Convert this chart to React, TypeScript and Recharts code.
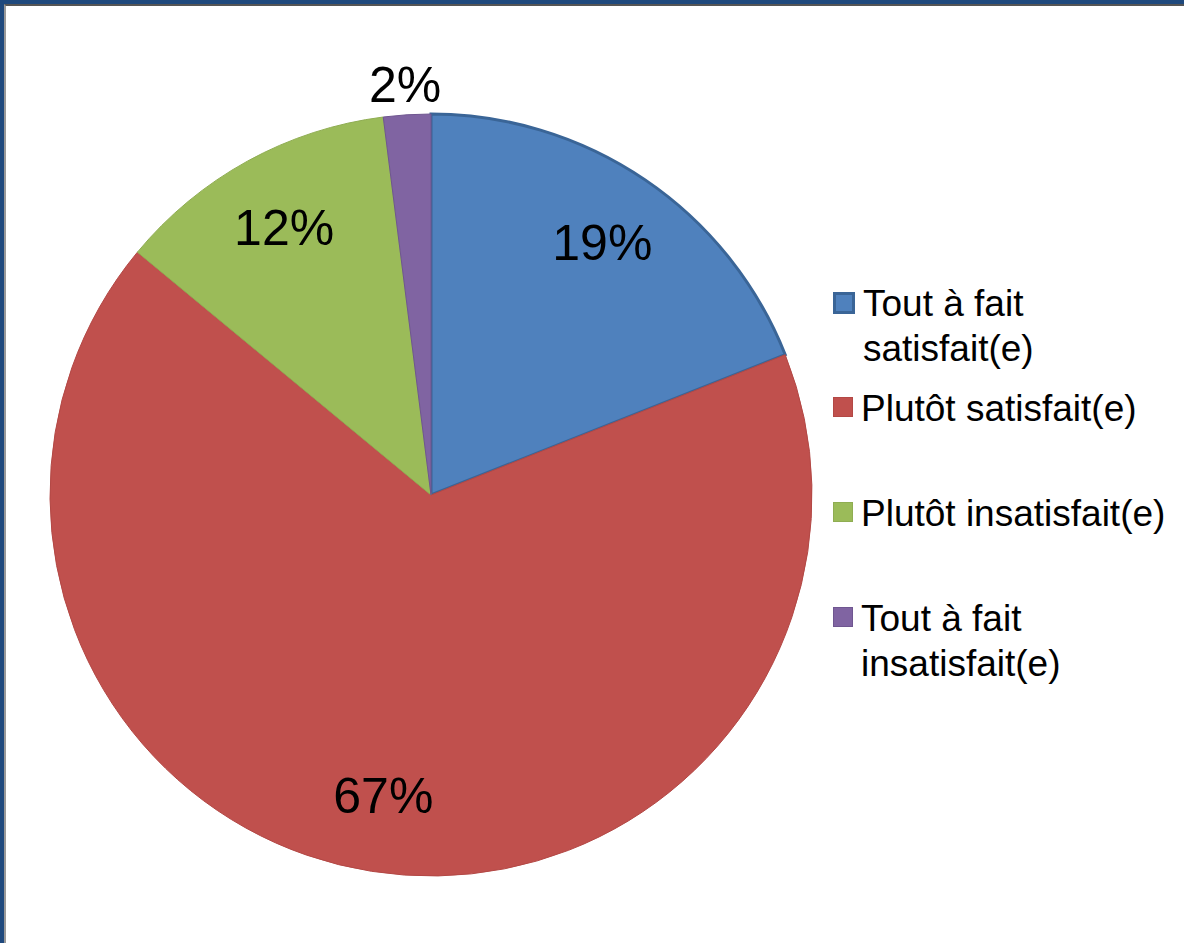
import * as React from "react";
import { Cell, Legend, Pie, PieChart } from "recharts";

const categories = [
  "Tout à fait satisfait(e)",
  "Plutôt satisfait(e)",
  "Plutôt insatisfait(e)",
  "Tout à fait insatisfait(e)",
];
const shares = [19, 67, 12, 2];
const fills = ["#4F81BD", "#C0504D", "#9BBB59", "#8064A2"];
const strokes = ["#3A6597", "#B34845", "#8FAD52", "#6F5690"];

const data = categories.map((name, i) => ({ name, value: shares[i] }));

const FONT = '"Liberation Sans", Arial, sans-serif';
const RAD = Math.PI / 180;

function renderLabel(props: any) {
  const { cx, cy, midAngle, outerRadius, percent, value } = props;
  // small slices get their label outside, like Excel's best fit
  const r = percent < 0.05 ? outerRadius + 30 : outerRadius * 0.8;
  const x = cx + r * Math.cos(-midAngle * RAD);
  const y = cy + r * Math.sin(-midAngle * RAD);
  return (
    <text
      x={x}
      y={y}
      fill="#000"
      fontSize={50}
      fontFamily={FONT}
      textAnchor="middle"
      dominantBaseline="central"
    >
      {value}%
    </text>
  );
}

// legend keeps the series order (recharts 3 would sort the payload by name)
function LegendContent() {
  return (
    <div style={{ fontFamily: FONT, fontSize: 37, lineHeight: "45px", color: "#000" }}>
      {categories.map((name, i) => (
        <div key={name} style={{ display: "flex", height: 105, alignItems: "flex-start" }}>
          <span
            style={{
              width: i === 0 ? 16 : 18,
              height: i === 0 ? 16 : 18,
              marginTop: 11,
              marginRight: 8,
              flex: "none",
              background: fills[i],
              border: i === 0 ? `3px solid ${strokes[0]}` : `1px solid ${strokes[i]}`,
            }}
          />
          <span style={{ width: 310 }}>{name}</span>
        </div>
      ))}
    </div>
  );
}

export default function App() {
  return (
    <div
      style={{
        position: "fixed",
        left: 0,
        top: 0,
        width: 1184,
        height: 943,
        background: "#1F497D",
        overflow: "hidden",
      }}
    >
      <div
        style={{
          position: "absolute",
          left: 4,
          top: 4,
          right: 0,
          bottom: 0,
          background: "#fff",
          borderTop: "2px solid #555",
          borderLeft: "2px solid #999",
        }}
      />
      <div style={{ position: "absolute", left: 0, top: 0 }}>
        <PieChart width={1184} height={943} margin={{ top: 0, right: 0, bottom: 0, left: 0 }}>
          <Pie
            data={data}
            dataKey="value"
            nameKey="name"
            cx={431}
            cy={495}
            outerRadius={381}
            startAngle={90}
            endAngle={-270}
            label={renderLabel}
            labelLine={false}
            isAnimationActive={false}
          >
            {data.map((d, i) => (
              <Cell key={d.name} fill={fills[i]} stroke={strokes[i]} strokeWidth={i === 0 ? 3 : 1} />
            ))}
          </Pie>
          <Legend
            layout="vertical"
            align="right"
            verticalAlign="middle"
            content={<LegendContent />}
            wrapperStyle={{ position: "absolute", left: 833, top: 281, width: 350, right: "auto", bottom: "auto" }}
          />
        </PieChart>
      </div>
    </div>
  );
}
